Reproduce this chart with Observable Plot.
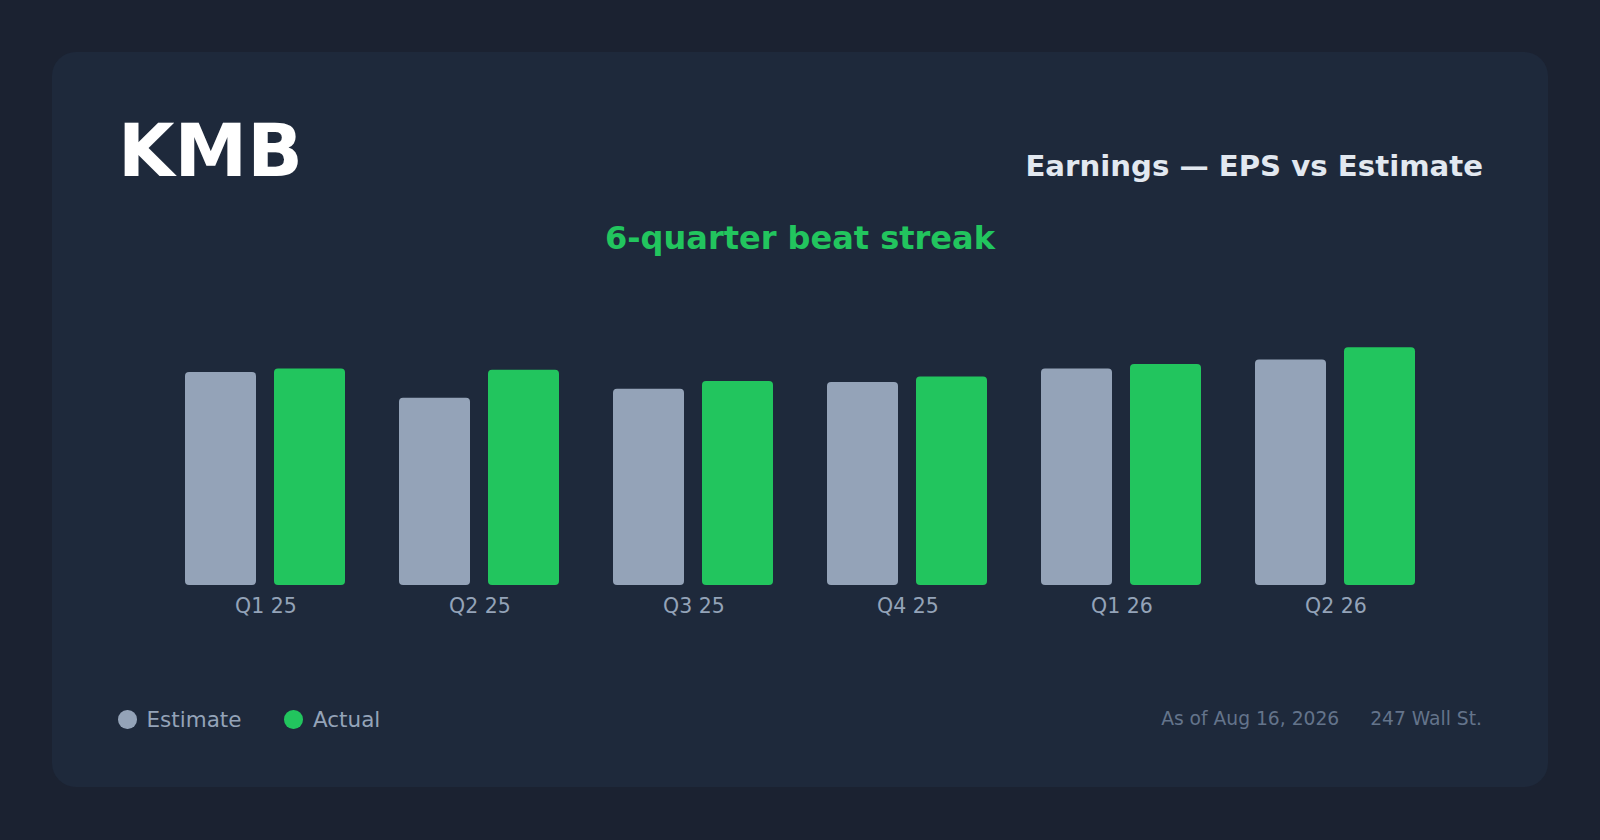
<!DOCTYPE html>
<html>
<head>
<meta charset="utf-8">
<script src="https://cdn.jsdelivr.net/npm/d3@7"></script>
<script src="https://cdn.jsdelivr.net/npm/@observablehq/plot@0.6"></script>
<style>
  html, body { margin: 0; padding: 0; }
  body { width: 1600px; height: 840px; background: #1b2231; position: relative; overflow: hidden; font-family: "DejaVu Sans", sans-serif; }
  .card { position: absolute; left: 52px; top: 52px; width: 1496px; height: 735px; border-radius: 24px; background: #1e293b; }
  .abs { position: absolute; line-height: 1; white-space: nowrap; }
  #ticker { left: 118px; top: 114.2px; font-size: 73px; font-weight: bold; color: #ffffff; }
  #kind { right: 117px; top: 151.7px; font-size: 29.2px; font-weight: bold; color: #e2e8f0; }
  #streak { left: 0; width: 1600px; text-align: center; top: 222px; font-size: 32px; font-weight: bold; color: #22c55e; }
  #chart { position: absolute; left: 116px; top: 289px; width: 1368px; height: 336px; }
  #chart svg { background: transparent !important; display: block; }
  #legend { left: 118px; top: 708.5px; font-size: 21.5px; color: #94a3b8; display: flex; align-items: center; }
  .item { display: flex; align-items: center; margin-right: 43px; }
  .dot { width: 18.5px; height: 18.5px; border-radius: 50%; margin-right: 10px; }
  #footer { right: 118px; top: 710px; font-size: 18.7px; color: #64748b; }
  #footer span + span { margin-left: 31px; }
</style>
</head>
<body>
<div class="card"></div>
<div id="ticker" class="abs">KMB</div>
<div id="kind" class="abs">Earnings — EPS vs Estimate</div>
<div id="streak" class="abs">6-quarter beat streak</div>
<div id="chart"></div>
<div id="legend" class="abs"></div>
<div id="footer" class="abs"><span>As of Aug 16, 2026</span><span>247 Wall St.</span></div>
<script>
const quarters = ["Q1 25", "Q2 25", "Q3 25", "Q4 25", "Q1 26", "Q2 26"];
const series = ["Estimate", "Actual"];
const estimate = [1.90, 1.67, 1.75, 1.81, 1.93, 2.01];
const actual = [1.93, 1.92, 1.82, 1.86, 1.97, 2.12];
const seriesColors = ["#94a3b8", "#22c55e"];

const data = quarters.flatMap((q, i) => [
  {quarter: q, series: "Estimate", eps: estimate[i]},
  {quarter: q, series: "Actual", eps: actual[i]}
]);

const chart = Plot.plot({
  width: 1368,
  height: 336,
  marginTop: 0,
  marginBottom: 40,
  marginLeft: 0,
  marginRight: 0,
  style: {background: "transparent", color: "#94a3b8", fontFamily: "DejaVu Sans, sans-serif"},
  fx: {domain: quarters, paddingInner: 0.25, paddingOuter: 0.32, label: null},
  x: {domain: series, paddingInner: 0.2, paddingOuter: 0, axis: null},
  y: {domain: [0, d3.max(actual) * 1.245], axis: null},
  color: {domain: series, range: seriesColors},
  marks: [
    Plot.barY(data, {fx: "quarter", x: "series", y: "eps", fill: "series", rx: 4}),
    Plot.axisFx({anchor: "bottom", tickSize: 0, tickPadding: 13, fontSize: 20.5, label: null})
  ]
});
document.getElementById("chart").appendChild(chart);

const legend = document.getElementById("legend");
series.forEach((s, i) => {
  const item = document.createElement("div");
  item.className = "item";
  const dot = document.createElement("span");
  dot.className = "dot";
  dot.style.background = seriesColors[i];
  const label = document.createElement("span");
  label.textContent = s;
  item.appendChild(dot);
  item.appendChild(label);
  legend.appendChild(item);
});
</script>
</body>
</html>
